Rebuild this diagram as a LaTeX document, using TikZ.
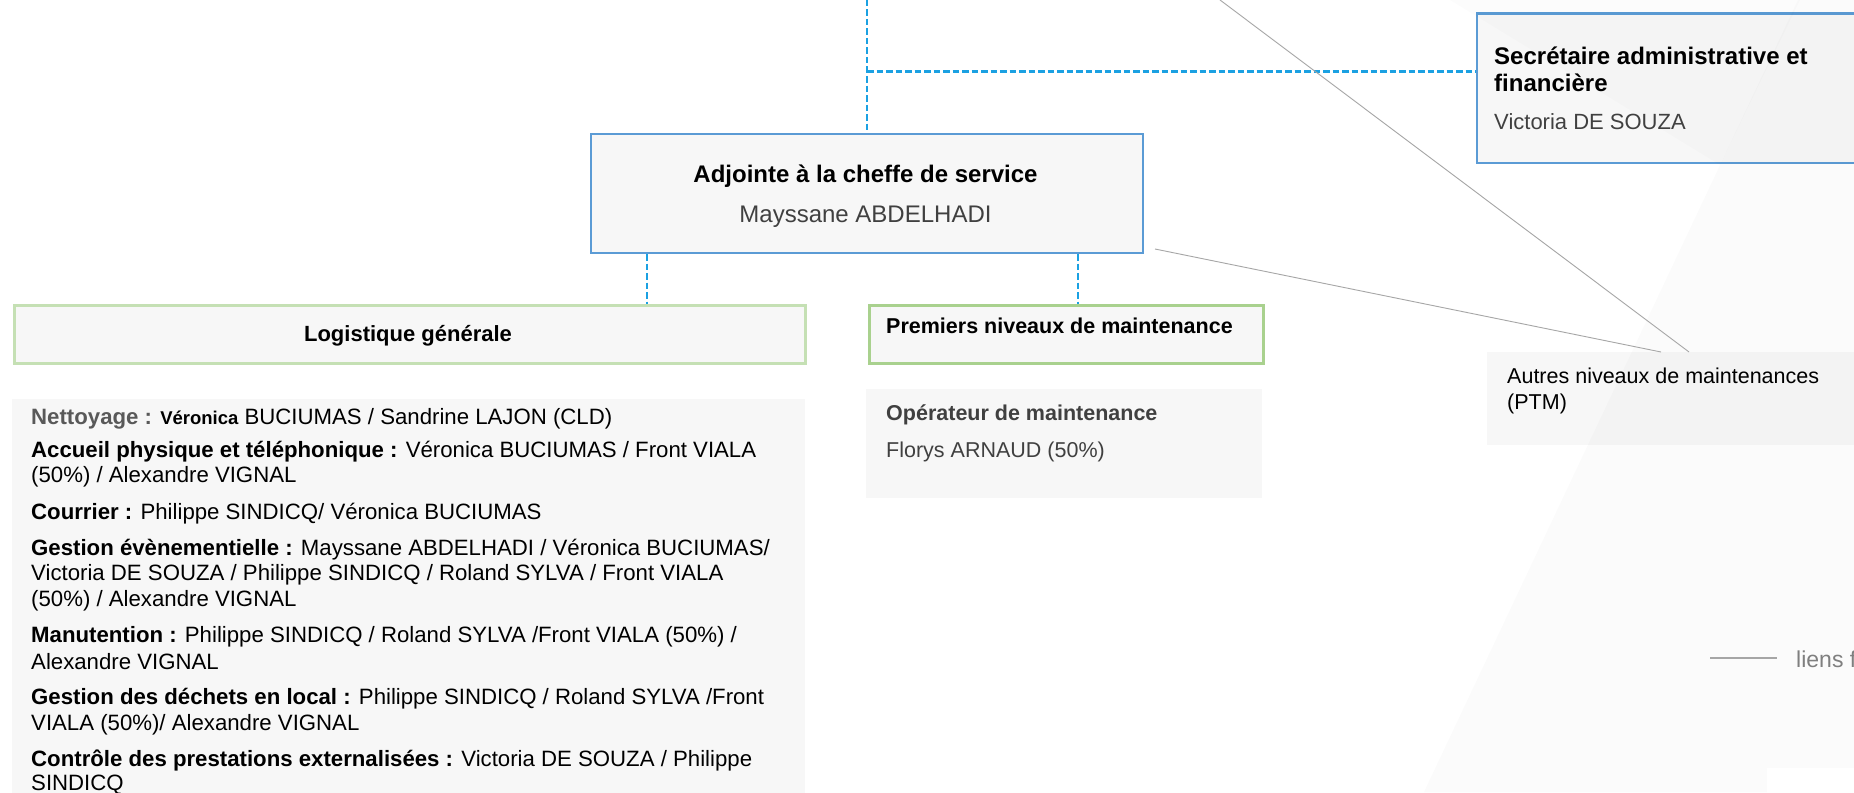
\documentclass[tikz,border=0pt]{standalone}
\usepackage{fontspec}
\setmainfont{Liberation Sans}
\definecolor{boxfill}{HTML}{F7F7F7}
\definecolor{bluebd}{HTML}{5B9BD5}
\definecolor{greenbd}{HTML}{C5E0B4}
\definecolor{greenbdb}{HTML}{A9D18E}
\definecolor{dashblue}{RGB}{27,161,226}
\definecolor{namegray}{HTML}{404040}
\definecolor{labgray}{HTML}{595959}
\definecolor{linegray}{HTML}{A6A6A6}
\definecolor{legendgray}{HTML}{7F7F7F}
\begin{document}
\begin{tikzpicture}[x=1pt,y=-1pt,
  box/.style={rectangle, fill=boxfill, inner sep=0pt, anchor=north west},
  bluebox/.style={box, draw=bluebd, line width=2.7pt},
  greenbox/.style={box, draw=greenbd, line width=3pt},
  greenboxb/.style={box, draw=greenbdb, line width=3pt},
  plainbox/.style={box, draw=none},
  link/.style={draw=dashblue, line width=2.2pt, dash pattern=on 6.5pt off 3pt},
  thinlink/.style={draw=linegray, line width=0.9pt},
  ltxt/.style={inner sep=0pt, anchor=base west, text=black},
  ctxt/.style={inner sep=0pt, anchor=base, text=black},
  titlefont/.style={font=\bfseries\fontsize{24}{28}\selectfont},
  namefont/.style={font=\fontsize{23}{27}\selectfont, text=namegray},
  bodyfont/.style={font=\fontsize{22.2}{25}\selectfont},
  smallfont/.style={font=\fontsize{21.5}{25}\selectfont}
]
\useasboundingbox (0,0) rectangle (1854,792);
\clip (0,0) rectangle (1854,792);
\fill[white] (0,0) rectangle (1854,792);

% boxes
\node[bluebox, minimum width=552pt, minimum height=119pt] (adj) at (589.5,132.5) {};
\node[bluebox, minimum width=450pt, minimum height=149pt] (sec) at (1475.5,12.5) {};
\node[greenbox, minimum width=791pt, minimum height=58pt] (logi) at (12.5,303.5) {};
\node[greenboxb, minimum width=394pt, minimum height=58pt] (prem) at (867.5,303.5) {};
\node[plainbox, minimum width=793pt, minimum height=420pt] (logtxt) at (12,399) {};
\node[plainbox, minimum width=396pt, minimum height=109pt] (oper) at (866,389) {};
\node[plainbox, minimum width=420pt, minimum height=93pt] (autres) at (1487,352) {};

% faint background shapes
\fill[black, opacity=0.01] (1450,0) -- (1800,0) -- (1720,165) -- cycle;
\fill[black, opacity=0.015] (1798,0) -- (1870,0) -- (1870,792) -- (1424,792) -- cycle;
\node[plainbox, fill=white, minimum width=100pt, minimum height=40pt] (legbox) at (1767,768) {};

% connectors
\coordinate (top) at (867,0);
\coordinate (j1) at (867,71.5);
\coordinate (xl) at (647,0);
\coordinate (xr) at (1078,0);
\draw[link] (top) -- (top |- adj.north);
\draw[link] (j1) -- (j1 -| sec.west);
\draw[link] (adj.south -| xl) -- (logi.north -| xl);
\draw[link] (adj.south -| xr) -- (prem.north -| xr);

\coordinate (g1) at (1220,0);
\coordinate (a1) at (1689,0);
\coordinate (g2) at (1155,249);
\coordinate (a2) at (1661,0);
\draw[thinlink] (g1) -- (autres.north -| a1);
\draw[thinlink] (g2) -- (autres.north -| a2);

% texts
\node[ctxt, titlefont] (adjt) at (865.5,182) {Adjointe à la cheffe de service};
\node[ctxt, namefont, font=\fontsize{24}{28}\selectfont] (adjn) at (865.5,222) {Mayssane ABDELHADI};

\node[ltxt, titlefont] (sect1) at (1494,64) {Secrétaire administrative et};
\node[ltxt, titlefont] (sect2) at (1494,92) {financière};
\node[ltxt, namefont, font=\fontsize{22}{26}\selectfont] (secn) at (1494,129) {Victoria DE SOUZA};

\node[ctxt, font=\bfseries\fontsize{22}{26}\selectfont] (logit) at (408,341) {Logistique générale};
\node[ltxt, font=\bfseries\fontsize{21.5}{25}\selectfont] (premt) at (886,333) {Premiers niveaux de maintenance};

\node[ltxt, font=\bfseries\fontsize{21.5}{25}\selectfont, text=namegray] (opert) at (886,420) {Opérateur de maintenance};
\node[ltxt, smallfont, text=namegray] (opern) at (886,457) {Florys ARNAUD (50\%)};

\node[ltxt, smallfont] (aut1) at (1507,383) {Autres niveaux de maintenances};
\node[ltxt, smallfont] (aut2) at (1507,409) {(PTM)};

\coordinate (lg1) at (1710,658);
\coordinate (lg2) at (1777,658);
\node[ltxt, font=\fontsize{23}{27}\selectfont, text=legendgray] (legt) at (1796,667) {liens f};
\draw[draw=linegray, line width=1.2pt] (lg1) -- (lg2);

% left paragraph lines
\node[ltxt, bodyfont] (l1) at (31,424) {{\color{labgray}\bfseries Nettoyage :} {\bfseries\fontsize{18.5}{22}\selectfont Véronica} BUCIUMAS / Sandrine LAJON (CLD)};
\node[ltxt, bodyfont] (l2) at (31,457) {\textbf{Accueil physique et téléphonique :} Véronica BUCIUMAS / Front VIALA};
\node[ltxt, bodyfont] (l3) at (31,482) {(50\%) / Alexandre VIGNAL};
\node[ltxt, bodyfont] (l4) at (31,519) {\textbf{Courrier :} Philippe SINDICQ/ Véronica BUCIUMAS};
\node[ltxt, bodyfont] (l5) at (31,555) {\textbf{Gestion évènementielle :} Mayssane ABDELHADI / Véronica BUCIUMAS/};
\node[ltxt, bodyfont] (l6) at (31,580) {Victoria DE SOUZA / Philippe SINDICQ / Roland SYLVA / Front VIALA};
\node[ltxt, bodyfont] (l7) at (31,606) {(50\%) / Alexandre VIGNAL};
\node[ltxt, bodyfont] (l8) at (31,642) {\textbf{Manutention :} Philippe SINDICQ / Roland SYLVA /Front VIALA (50\%) /};
\node[ltxt, bodyfont] (l9) at (31,669) {Alexandre VIGNAL};
\node[ltxt, bodyfont] (l10) at (31,704) {\textbf{Gestion des déchets en local :} Philippe SINDICQ / Roland SYLVA /Front};
\node[ltxt, bodyfont] (l11) at (31,730) {VIALA (50\%)/ Alexandre VIGNAL};
\node[ltxt, bodyfont] (l12) at (31,766) {\textbf{Contrôle des prestations externalisées :} Victoria DE SOUZA / Philippe};
\node[ltxt, bodyfont] (l13) at (31,790) {SINDICQ};
\end{tikzpicture}
\end{document}
